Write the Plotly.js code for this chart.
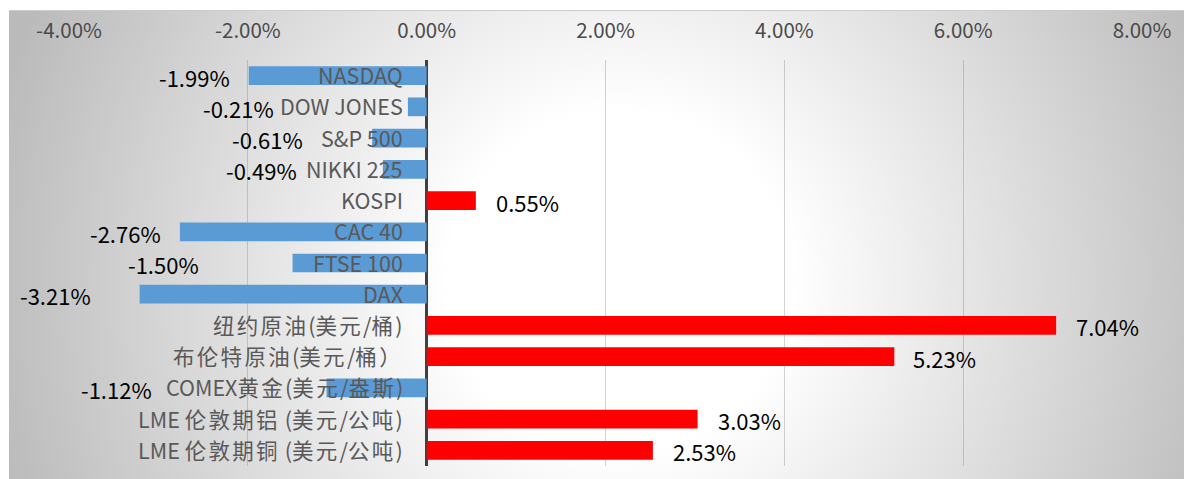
<!DOCTYPE html>
<html>
<head>
<meta charset="utf-8">
<script src="https://cdn.plot.ly/plotly-3.0.1.min.js"></script>
<style>
  html, body { margin: 0; padding: 0; background: #ffffff; }
  #wrap { position: relative; width: 1189px; height: 479px; overflow: hidden; }
  #bg { position: absolute; left: 9px; top: 10px; width: 1175px; height: 469px;
        background: radial-gradient(circle at 611px 270px, #ffffff 0px, #ffffff 170px, #bababa 650px);
        border-top: 1px solid #cccccc; box-sizing: border-box; }
  #chart { position: absolute; left: 0; top: 0; width: 1189px; height: 479px; }
</style>
</head>
<body>
<div id="wrap">
  <div id="bg"></div>
  <div id="chart"></div>
</div>
<script>
// ---- data ----
const categories = [
  'NASDAQ', 'DOW JONES', 'S&P 500', 'NIKKI 225', 'KOSPI', 'CAC 40', 'FTSE 100', 'DAX',
  '纽约原油(美元/桶)', '布伦特原油(美元/桶）', 'COMEX黄金(美元/盎斯)',
  'LME 伦敦期铝 (美元/公吨)', 'LME 伦敦期铜 (美元/公吨)'
];
const changes = [-1.99, -0.21, -0.61, -0.49, 0.55, -2.76, -1.50, -3.21, 7.04, 5.23, -1.12, 3.03, 2.53];
const tickValues = [-4, -2, 0, 2, 4, 6, 8];
const tickLabels = ['-4.00%', '-2.00%', '0.00%', '2.00%', '4.00%', '6.00%', '8.00%'];

// ---- style (label placement offsets in px, as positioned in the original) ----
const labelShiftPx = [-17, -132, -67, -84, 18, -17, -92, -47, 18, 17, -173, 18, 18];
const FONT = '"Noto Sans CJK SC", "Noto Sans", sans-serif';

const trace = {
  type: 'bar',
  orientation: 'h',
  x: changes,
  y: categories,
  marker: { color: changes.map(v => v < 0 ? '#5b9bd5' : '#ff0000') },
  hoverinfo: 'none',
  width: 0.6
};

const esc = s => s.replace(/&/g, '&amp;')
  .replace(/([\u3000-\u9fff\uff00-\uffef]+)/g, '<span style="letter-spacing:2.3px">$1</span>');
const annotations = [];
categories.forEach((c, i) => {
  annotations.push({
    x: 0, y: c, xref: 'x', yref: 'y',
    text: esc(c), showarrow: false,
    xanchor: 'right', yanchor: 'middle', xshift: -22, yshift: 1,
    font: { family: FONT, size: 21.5, color: '#595959' }
  });
  const v = changes[i];
  annotations.push({
    x: v, y: c, xref: 'x', yref: 'y',
    text: v.toFixed(2) + '%', showarrow: false,
    xanchor: v < 0 ? 'right' : 'left', yanchor: 'middle',
    xshift: labelShiftPx[i], yshift: -1,
    font: { family: FONT, size: 22, color: '#000000' }
  });
});

const layout = {
  width: 1189, height: 479,
  margin: { l: 69, r: 47, t: 60, b: 13, pad: 0 },
  paper_bgcolor: 'rgba(0,0,0,0)',
  plot_bgcolor: 'rgba(0,0,0,0)',
  showlegend: false,
  bargap: 0.4,
  xaxis: {
    side: 'top', range: [-4, 8], autorange: false, tickmode: 'array',
    tickvals: tickValues, ticktext: tickLabels,
    showgrid: true, gridcolor: 'rgba(110,110,110,0.3)', gridwidth: 1,
    zeroline: true, zerolinecolor: '#404040', zerolinewidth: 3,
    showline: false, ticks: '', ticklabelstandoff: 17, automargin: false,
    tickfont: { family: FONT, size: 20.5, color: '#4a4a4a' },
    fixedrange: true
  },
  yaxis: {
    type: 'category', autorange: false, range: [categories.length - 0.5, -0.5],
    showticklabels: false, showgrid: false, zeroline: false, showline: false, ticks: '',
    automargin: false, fixedrange: true
  },
  annotations: annotations
};

Plotly.newPlot('chart', [trace], layout, { displayModeBar: false, staticPlot: true });
</script>
</body>
</html>
